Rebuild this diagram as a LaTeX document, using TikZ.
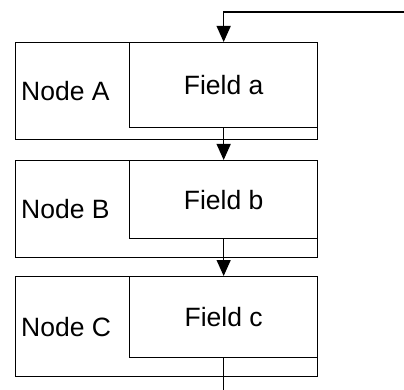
\documentclass[tikz,border=0pt]{standalone}
\usepackage{fontspec}
\setmainfont{Liberation Sans}
\usepackage{tikz}
\usetikzlibrary{positioning}
\usetikzlibrary{arrows.meta}

\tikzset{
  outerbox/.style = {draw, line width=1.3pt, anchor=north west, minimum width=302pt, inner sep=0pt},
  fieldbox/.style = {draw, line width=1.3pt, anchor=north east, minimum width=188pt, inner sep=0pt,
                     font=\fontsize{26.5}{30}\selectfont},
  namelabel/.style = {inner sep=0pt, anchor=west, font=\fontsize{26.5}{30}\selectfont},
  link/.style = {line width=1.3pt, -{Triangle[width=14pt,length=16pt]}}
}

\begin{document}
\begin{tikzpicture}[x=1pt, y=-1pt]
\useasboundingbox (0,0) rectangle (404,390);

\node[outerbox, minimum height=97pt] (nodeA) at (15,42) {};
\node[fieldbox, minimum height=85pt] (fieldA) at (nodeA.north east) {Field a};
\node[namelabel, right=6pt of nodeA.west] (labA) {Node A};

\node[outerbox, minimum height=97pt] (nodeB) at (15,160) {};
\node[fieldbox, minimum height=78pt] (fieldB) at (nodeB.north east) {Field b};
\node[namelabel, right=6pt of nodeB.west] (labB) {Node B};

\node[outerbox, minimum height=100pt] (nodeC) at (15,276) {};
\node[fieldbox, minimum height=81pt] (fieldC) at (nodeC.north east) {Field c};
\node[namelabel, right=6pt of nodeC.west] (labC) {Node C};

\coordinate (feed) at (404,12);
\coordinate (exit) at (fieldC.south |- 0,390);

\draw[link] (feed) -| (fieldA.north);
\draw[link] (fieldA.south) -- (fieldB.north);
\draw[link] (fieldB.south) -- (fieldC.north);
\draw[line width=1.3pt] (fieldC.south) -- (exit);

\end{tikzpicture}
\end{document}
